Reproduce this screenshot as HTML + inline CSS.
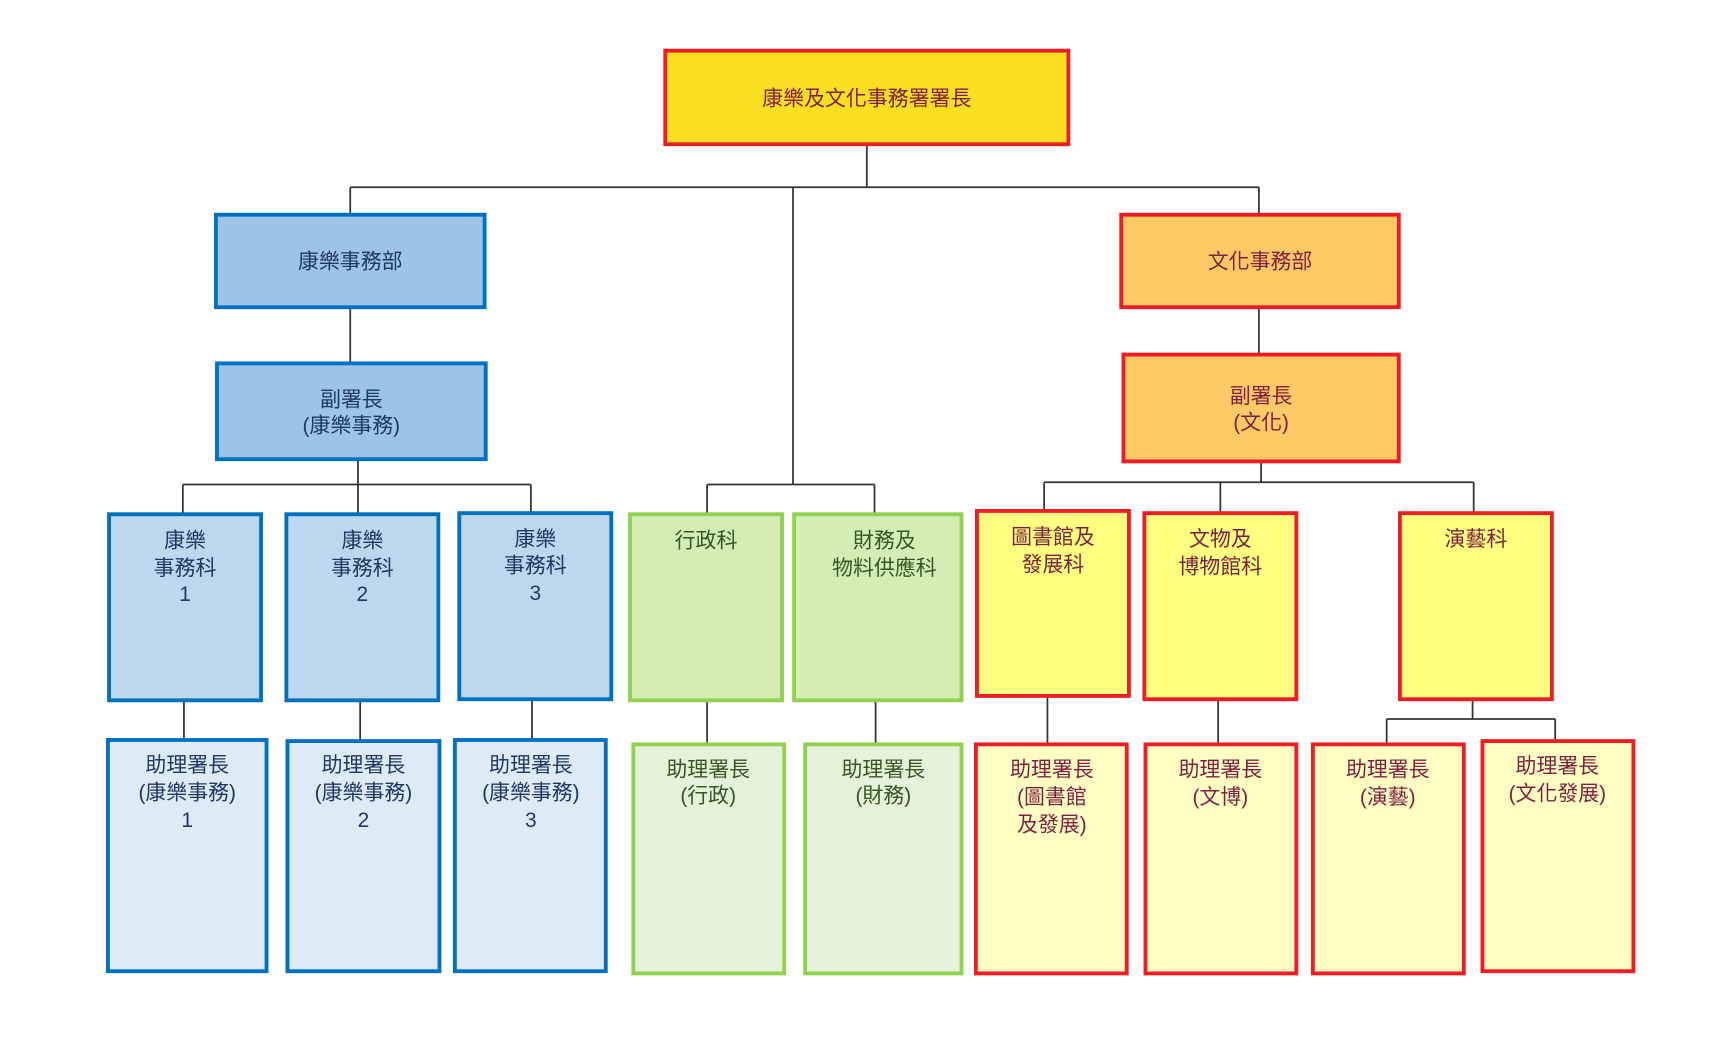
<!DOCTYPE html>
<html><head><meta charset="utf-8"><style>
html,body{margin:0;padding:0;background:#fff;}
svg{display:block;}
text{font-family:"Liberation Sans","Noto Sans CJK TC",sans-serif;font-size:19px;text-anchor:middle;}
.b{fill:#1F3864}.g{fill:#375623}.r{fill:#7F1F3F}
</style></head><body>
<svg width="1727" height="1056" viewBox="0 0 1568 959" preserveAspectRatio="none" xmlns="http://www.w3.org/2000/svg">
<g stroke="#333" stroke-width="1.6" fill="none">
<path d="M787 131V170M318 170H1143M318 170V195M1143 170V195M720 170V440"/>
<path d="M318 279V330M325 417V440M166 440H482M166 440V467M325 440V467M482 440V466"/>
<path d="M167 636V672M327 636V673M483 635V672"/>
<path d="M642 440H794M642 440V467M794 440V467M642 636V676M795 636V676"/>
<path d="M1143 279V322M1145 419V438M948 438H1338M948 438V464M1108 438V466M1338 438V466"/>
<path d="M951 632V676M1106 635V676M1337 635V653M1259 653H1412M1259 653V676M1412 653V673"/>
</g>
<g stroke-width="3.5">
<rect x="604" y="46" width="366" height="85" fill="#F9DE21" stroke="#EE1C24"/>
<rect x="196" y="195" width="244" height="84" fill="#9DC3E6" stroke="#0070C0"/>
<rect x="197" y="330" width="244" height="87" fill="#9DC3E6" stroke="#0070C0"/>
<rect x="1018" y="195" width="252" height="84" fill="#FFC966" stroke="#EE1C24"/>
<rect x="1020" y="322" width="250" height="97" fill="#FFC966" stroke="#EE1C24"/>
<g fill="#BDD7EE" stroke="#0070C0">
<rect x="99" y="467" width="138" height="169"/><rect x="260" y="467" width="138" height="169"/><rect x="417" y="466" width="138" height="169"/>
</g>
<g fill="#DEEBF7" stroke="#0070C0">
<rect x="98" y="672" width="144" height="210"/><rect x="261" y="673" width="138" height="209"/><rect x="413" y="672" width="137" height="210"/>
</g>
<g fill="#D3EDB5" stroke="#92D050">
<rect x="572" y="467" width="138" height="169"/><rect x="721" y="467" width="152" height="169"/>
</g>
<g fill="#E4F2D9" stroke="#92D050">
<rect x="575" y="676" width="137" height="208"/><rect x="731" y="676" width="142" height="208"/>
</g>
<g fill="#FFFF80" stroke="#EE1C24">
<rect x="887" y="464" width="138" height="168"/><rect x="1039" y="466" width="138" height="169"/><rect x="1271" y="466" width="138" height="169"/>
</g>
<g fill="#FFFFC4" stroke="#EE1C24">
<rect x="886" y="676" width="137" height="208"/><rect x="1040" y="676" width="137" height="208"/><rect x="1192" y="676" width="137" height="208"/><rect x="1346" y="673" width="137" height="209"/>
</g>
</g>
<text x="787" y="96" class="r">康樂及文化事務署署長</text>
<text x="318" y="244" class="b">康樂事務部</text>
<text x="319" y="369" class="b">副署長</text><text x="319" y="393" class="b">(康樂事務)</text>
<text x="1144" y="244" class="r">文化事務部</text>
<text x="1145" y="366" class="r">副署長</text><text x="1145" y="390" class="r">(文化)</text>
<text x="168" y="497" class="b">康樂</text><text x="168" y="522" class="b">事務科</text><text x="168" y="546" class="b">1</text>
<text x="329" y="497" class="b">康樂</text><text x="329" y="522" class="b">事務科</text><text x="329" y="546" class="b">2</text>
<text x="486" y="496" class="b">康樂</text><text x="486" y="520" class="b">事務科</text><text x="486" y="545" class="b">3</text>
<text x="170" y="701" class="b">助理署長</text><text x="170" y="726" class="b">(康樂事務)</text><text x="170" y="751" class="b">1</text>
<text x="330" y="701" class="b">助理署長</text><text x="330" y="726" class="b">(康樂事務)</text><text x="330" y="751" class="b">2</text>
<text x="482" y="701" class="b">助理署長</text><text x="482" y="726" class="b">(康樂事務)</text><text x="482" y="751" class="b">3</text>
<text x="641" y="497" class="g">行政科</text>
<text x="803" y="497" class="g">財務及</text><text x="803" y="522" class="g">物料供應科</text>
<text x="643" y="705" class="g">助理署長</text><text x="643" y="729" class="g">(行政)</text>
<text x="802" y="705" class="g">助理署長</text><text x="802" y="729" class="g">(財務)</text>
<text x="956" y="494" class="r">圖書館及</text><text x="956" y="519" class="r">發展科</text>
<text x="1108" y="496" class="r">文物及</text><text x="1108" y="521" class="r">博物館科</text>
<text x="1340" y="496" class="r">演藝科</text>
<text x="955" y="705" class="r">助理署長</text><text x="955" y="730" class="r">(圖書館</text><text x="955" y="755" class="r">及發展)</text>
<text x="1108" y="705" class="r">助理署長</text><text x="1108" y="730" class="r">(文博)</text>
<text x="1260" y="705" class="r">助理署長</text><text x="1260" y="730" class="r">(演藝)</text>
<text x="1414" y="702" class="r">助理署長</text><text x="1414" y="727" class="r">(文化發展)</text>
</svg>
</body></html>
